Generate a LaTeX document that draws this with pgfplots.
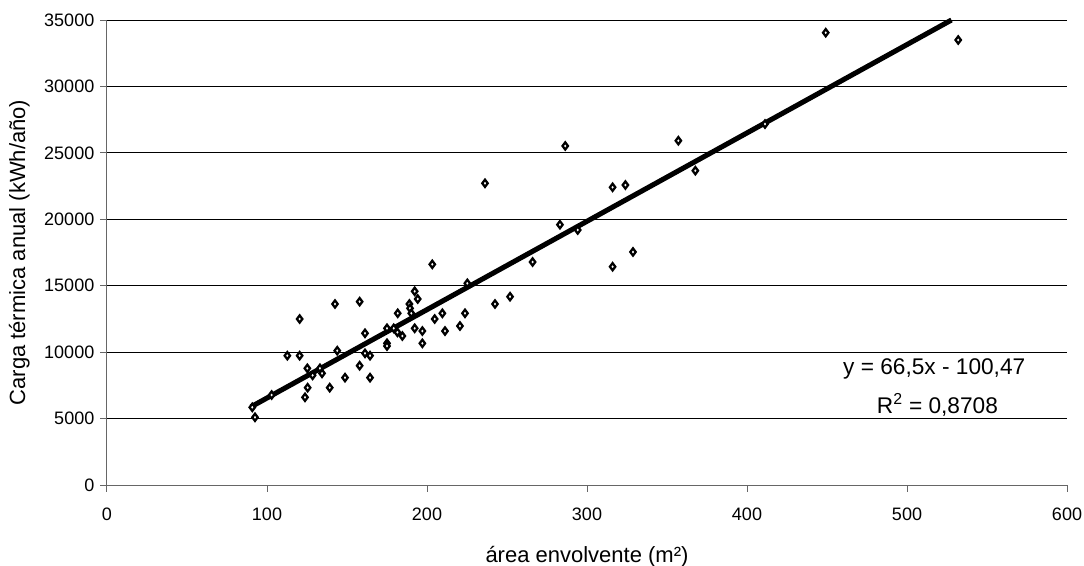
\documentclass[border=0pt]{standalone}
\usepackage{pgfplots}
\pgfplotsset{compat=1.18}
\usepackage{fontspec}
\setmainfont{Liberation Sans}
\begin{document}
\begin{tikzpicture}
\useasboundingbox (-80.25pt,-60pt) rectangle (732.75pt,363.75pt);
\begin{axis}[
  at={(0pt,0pt)}, anchor=south west,
  scale only axis, width=720pt, height=348.75pt,
  xmin=0, xmax=600, ymin=0, ymax=35000,
  axis x line=bottom, axis y line=left,
  axis line style={-, draw=black!60, line width=0.75pt},
  xtick={0,100,...,600}, ytick={0,5000,...,35000},
  tick align=outside, major tick length=5pt,
  tick style={black!60, line width=0.75pt},
  ymajorgrids, grid style={black, line width=0.75pt},
  scaled y ticks=false,
  /pgf/number format/assume math mode=true,
  yticklabel style={/pgf/number format/fixed, /pgf/number format/1000 sep={}, xshift=-1pt},
  ticklabel style={font=\fontsize{13.5}{15}\selectfont},
  xticklabel style={yshift=-9pt},
  xlabel={área envolvente (m²)},
  ylabel={Carga térmica anual (kWh/año)},
  label style={font=\fontsize{16.5}{19}\selectfont},
  xlabel style={yshift=-12pt},
  ylabel style={yshift=4pt},
  clip=false,
]
\addplot[only marks, mark=diamond*, mark size=2.7pt,
  mark options={fill=white, draw=black, line width=1.7pt}] coordinates {
(90.8,5848) (92.5,5095) (102.9,6774) (112.7,9735) (120.4,9735) (120.4,12495)
(125.2,8782) (123.75,6600) (125.4,7325) (128.5,8255) (133.1,8782) (134.4,8405)
(139.2,7325) (142.5,13624) (143.9,10110) (148.75,8080) (157.9,13800) (157.9,8980)
(161.25,11420) (161.25,9910) (164.4,9735) (164.4,8080) (175,10665) (175,10460)
(175,11795) (179.2,11795) (181.5,11495) (181.7,12925) (184.6,11215) (189,13624)
(189.4,13300) (190.2,12925) (192.3,14580) (194.2,14000) (192.3,11795) (197.1,11590)
(197.1,10665) (203.3,16610) (204.8,12495) (209.6,12925) (211.25,11590) (220.6,11970)
(223.75,12925) (225.2,15180) (242.5,13624) (251.9,14175) (266,16785)
(236.25,22710) (286.4,25520)
(283.1,19593) (294.2,19195) (316,22410) (324,22580) (316,16430) (328.75,17540)
(367.7,23660) (357.1,25915) (411.25,27170) (449.2,34045) (532,33495)
};
\addplot[black, line width=3.8pt, no marks] coordinates {(90,5884.5) (527.8,35000)};
\node[font=\fontsize{17}{20}\selectfont, anchor=center] at (axis cs:517,8730) {y = 66,5x - 100,47};
\node[font=\fontsize{17}{20}\selectfont, anchor=center] at (axis cs:519,6020) {R\textsuperscript{2} = 0,8708};
\end{axis}
\end{tikzpicture}
\end{document}
